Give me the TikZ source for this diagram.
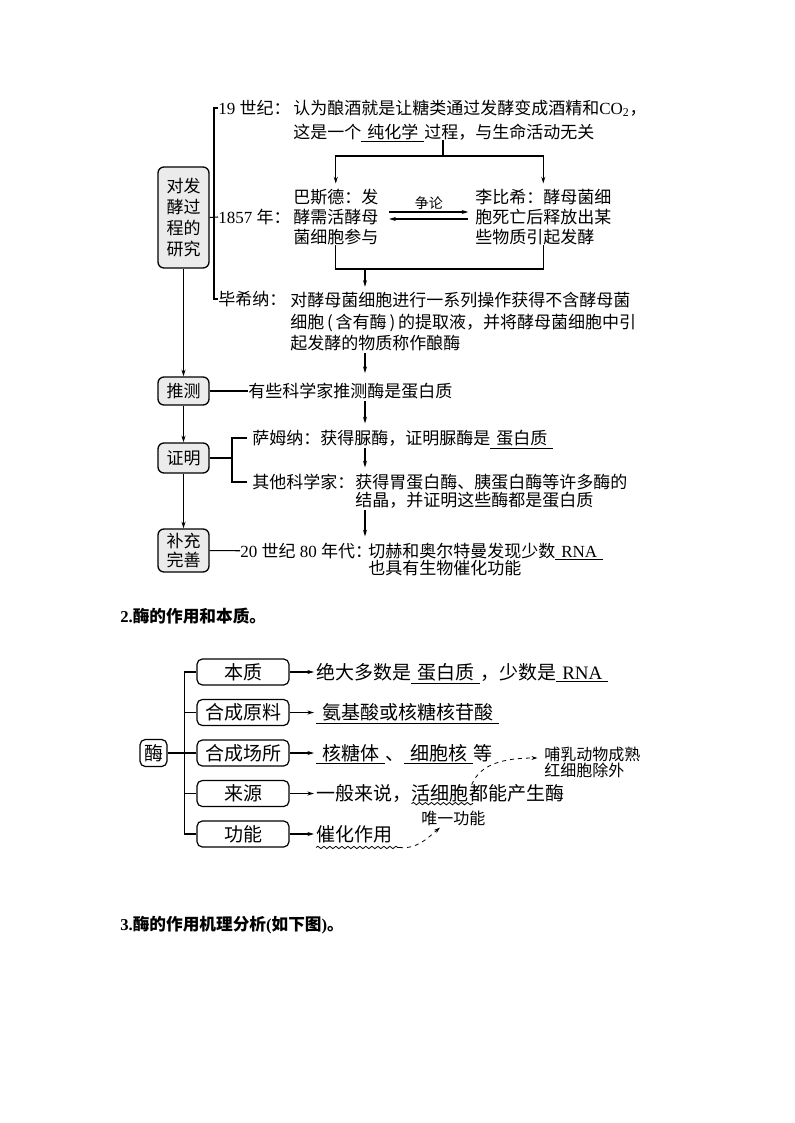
\documentclass[tikz,border=0pt]{standalone}
\usepackage{fontspec}
\setmainfont{Noto Sans CJK SC}
\newfontfamily\enfont{Liberation Serif}
\usepackage{tikz}
\usetikzlibrary{arrows.meta,positioning,decorations.pathmorphing}
\definecolor{boxgray}{HTML}{EBEBEB}
\newcommand{\en}[1]{{\enfont #1}}
\newcommand{\blank}[1]{\underline{\hspace{4.5pt}#1\hspace{4.5pt}}}
\newcommand{\fsone}{\fontsize{12.75pt}{15pt}\selectfont}
\newcommand{\fsbox}{\fontsize{12.75pt}{15.75pt}\selectfont}
\newcommand{\fstwo}{\fontsize{14.25pt}{17pt}\selectfont}
\newcommand{\fsnote}{\fontsize{10.5pt}{12pt}\selectfont}
\newcommand{\fshand}{\fontsize{12pt}{12pt}\selectfont}
\newcommand{\fshead}{\fontsize{12.5pt}{15pt}\selectfont\bfseries}

\begin{document}
\begin{tikzpicture}[x=0.75pt,y=-0.75pt,
  txt/.style={anchor=west,inner sep=0pt,text height=10.6pt,text depth=0.9pt,font=\fsone},
  txt2/.style={anchor=west,inner sep=0pt,text height=11.8pt,text depth=1pt,font=\fstwo},
  block/.style={anchor=west,inner sep=0pt,align=left,font=\fsone},
  head/.style={anchor=west,inner sep=0pt,font=\fshead},
  hand/.style={anchor=west,inner sep=0pt,align=left,font=\fshand},
  topic/.style={draw,fill=boxgray,rounded corners=4.5pt,line width=1pt,inner sep=0pt,
    minimum width=38.25pt,align=center,font=\fsbox},
  part/.style={draw,fill=white,rounded corners=4pt,line width=.9pt,inner sep=0pt,
    minimum width=69pt,minimum height=19.5pt,font=\fstwo},
  conn/.style={line width=.8pt},
  arr/.style={conn,-{Stealth[length=5pt,width=3pt]}},
  flow/.style={arr,shorten <=1.5pt,shorten >=5pt},
  wavy/.style={line width=.6pt,decorate,decoration={snake,segment length=4.5pt,amplitude=.9pt}},
  notearrow/.style={line width=.6pt,dashed,-{Stealth[length=4.5pt,width=3pt]}}]
\useasboundingbox (0,0) rectangle (794,1123);

% STUDY OF FERMENTATION
\node[topic,minimum height=75.75pt] (study) at (183.5,217.5) {对发\\酵过\\程的\\研究};
\node[txt] (l19) at (218,108) {\en{19 }世纪：};
\node[txt] (t19a) at (293,108) {认为酿酒就是让糖类通过发酵变成酒精和\en{CO\textsubscript{2}}，};
\node[txt] (t19b) at (293,132) {这是一个\blank{纯化学}过程，与生命活动无关};
\node[txt] (l1857) at (218,217) {\en{1857 }年：};
\node[block] (pasteur) at (293,217) {巴斯德：发\\酵需活酵母\\菌细胞参与};
\node[block] (liebig) at (475,217) {李比希：酵母菌细\\胞死亡后释放出某\\些物质引起发酵};
\node[txt] (lbx) at (218,299) {毕希纳：};
\node[txt] (tbx1) at (290,300) {对酵母菌细胞进行一系列操作获得不含酵母菌};
\node[txt] (tbx2) at (290,322) {细胞\,(\,含有酶\,)\,的提取液，并将酵母菌细胞中引};
\node[txt] (tbx3) at (290,343) {起发酵的物质称作酿酶};
\coordinate (split) at (443,156);
\coordinate (merge) at (365,269);
\draw[conn] (l19.west) -- ++(-4,0) |- (lbx.west);
\draw[conn] (study.east) -- (l1857.west);
\draw[conn] (t19b.south -| split) -- (split);
\draw[arr,shorten >=4pt] (split) -| (pasteur);
\draw[arr,shorten >=4pt] (split) -| (liebig);
\draw[arr] ([xshift=8pt,yshift=3.75pt]pasteur.east) --
  node[above=1.5pt,inner sep=0pt,font=\fsnote] (debate) {争论} ([xshift=-5pt,yshift=3.75pt]liebig.west);
\draw[arr] ([xshift=-5pt,yshift=-1.5pt]liebig.west) -- ([xshift=8pt,yshift=-1.5pt]pasteur.east);
\draw[conn] (pasteur.south) |- (merge) -| (liebig.south);
\draw[arr,shorten >=4pt] (merge) -- (merge |- tbx1.north);

% GUESS
\node[topic,minimum height=21pt] (guess) at (183.5,391) {推测};
\node[txt] (tguess) at (248,391) {有些科学家推测酶是蛋白质};
\draw[conn] (guess) -- (tguess);
\draw[arr] (study) -- (guess);
\draw[flow,shorten >=7.5pt] (tbx3.south -| merge) -- (tguess.north -| merge);

% PROOF
\node[topic,minimum height=22.5pt] (proof) at (183.5,458) {证明};
\node[txt] (tsum) at (252,438) {萨姆纳：获得脲酶，证明脲酶是\blank{蛋白质}};
\node[txt] (lother) at (252,482) {其他科学家：};
\node[txt] (tother1) at (355,482) {获得胃蛋白酶、胰蛋白酶等许多酶的};
\node[txt] (tother2) at (355,500) {结晶，并证明这些酶都是蛋白质};
\coordinate (pj) at (232,458);
\draw[conn] (proof) -- (pj);
\draw[conn] ([xshift=-3.75pt]tsum.west) -| (pj) |- ([xshift=-3.75pt]lother.west);
\draw[arr] (guess) -- (proof);
\draw[flow] (tguess.south -| merge) -- (tsum.north -| merge);
\draw[flow] (tsum.south -| merge) -- (tother1.north -| merge);

% SUPPLEMENT
\node[topic,minimum height=32.25pt,font=\fontsize{12.75pt}{14.25pt}\selectfont] (supp) at (183.5,550.5) {补充\\完善};
\node[txt] (lsupp) at (240,551) {\en{20 }世纪\en{ 80 }年代：};
\node[txt] (tsupp1) at (368,551) {切赫和奥尔特曼发现少数\blank{\en{RNA}}};
\node[txt] (tsupp2) at (368,568) {也具有生物催化功能};
\draw[conn] (supp) -- (lsupp);
\draw[arr] (proof) -- (supp);
\draw[flow] (tother2.south -| merge) -- (tsupp1.north -| merge);

% ROLE AND NATURE OF ENZYMES
\node[head] (head2) at (120,616) {\en{2.}酶的作用和本质。};
\node[part,minimum width=20.25pt,minimum height=20.25pt] (enzyme) at (153.5,753) {酶};
\foreach \i/\name/\yy in {1/本质/672, 2/合成原料/712.5, 3/合成场所/753, 4/来源/793.5, 5/功能/834}{
  \node[part] (p\i) at (243,\yy) {\name};
}
\node[txt2] (q1) at (316,672) {绝大多数是\blank{蛋白质}，少数是\blank{\en{RNA}}};
\node[txt2] (q2) at (316,712.5) {\blank{氨基酸或核糖核苷酸}};
\node[txt2] (q3) at (316,753) {\blank{核糖体}、\blank{细胞核}等};
\node[txt2] (q4) at (316,793.5) {一般来说，};
\node[txt2,right=0pt of q4] (q4b) {活细胞};
\node[txt2,right=0pt of q4b] (q4c) {都能产生酶};
\node[txt2] (q5) at (316,834) {催化作用};
\draw[conn] (p1.west) -- ++(-12,0) |- (p5.west);
\foreach \i in {2,4}{ \draw[conn] (p\i.west) -- ++(-12,0); }
\draw[conn] (enzyme) -- (p3);
\foreach \i in {1,...,5}{ \draw[arr,shorten >=1.5pt] (p\i) -- (q\i); }

% NOTES
\node[hand] (n1) at (421,818) {唯一功能};
\node[hand] (n2) at (544,762) {哺乳动物成熟\\红细胞除外};
\draw[wavy] ([yshift=-1pt]q4b.south west) -- ([xshift=3pt,yshift=-1pt]q4b.south east);
\draw[wavy] ([yshift=-3.5pt]q5.south west) -- ([xshift=5pt,yshift=-3.5pt]q5.south east) coordinate (wend);
\draw[notearrow] (wend) .. controls +(18,2) and +(-12,10) .. ([xshift=-10pt,yshift=-1.5pt]n1.south);
\draw[notearrow] ([xshift=2pt]q4c.north west) .. controls +(8,-20) and +(-35,0) .. ([xshift=-5pt,yshift=3pt]n2.west);

% MECHANISM
\node[head] (head3) at (120,925) {\en{3.}酶的作用机理分析\en{(}如下图\en{)}。};
\end{tikzpicture}
\end{document}
